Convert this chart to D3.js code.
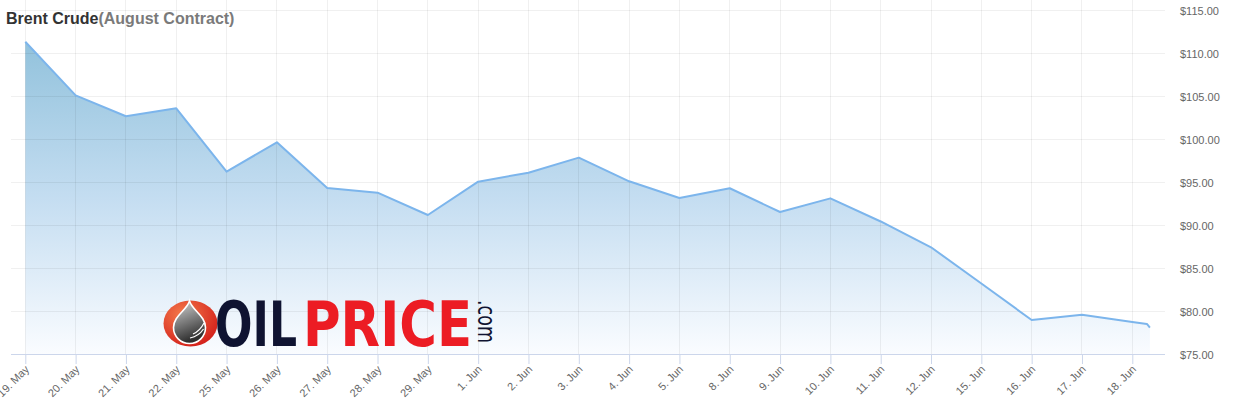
<!DOCTYPE html>
<html>
<head>
<meta charset="utf-8">
<script src="https://cdn.jsdelivr.net/npm/d3@7"></script>
<style>
  body { margin: 0; background: #fff; }
  svg { display: block; font-family: "Liberation Sans", Arial, sans-serif; }
</style>
</head>
<body>
<div id="chart"></div>
<script>
// trading sessions (x axis labels)
const sessions = ['19. May', '20. May', '21. May', '22. May', '25. May', '26. May', '27. May',
  '28. May', '29. May', '1. Jun', '2. Jun', '3. Jun', '4. Jun', '5. Jun', '8. Jun', '9. Jun',
  '10. Jun', '11. Jun', '12. Jun', '15. Jun', '16. Jun', '17. Jun', '18. Jun']
// settle price per session, USD
const closes = [111.31, 105.08, 102.64, 103.57, 96.20, 99.62, 94.30, 93.76, 91.16, 95.04,
  96.08, 97.83, 95.08, 93.14, 94.27, 91.51, 93.10, 90.41, 87.41, 83.20, 78.95, 79.57, 78.73]
// intraday ticks after the last session (session offset, price)
const lateTimes = [22.29, 22.35]
const lateValues = [78.49, 78.06]
const priceTicks = [75, 80, 85, 90, 95, 100, 105, 110, 115]

const width = 1234
const height = 413
const plot = {left: 11, right: 1165, top: 0, bottom: 354}

const svg = d3.select('#chart')
  .append('svg')
  .attr('width', width)
  .attr('height', height)

const x = d3.scaleLinear().domain([0, sessions.length - 1]).range([25.3, 1132.3])
const y = d3.scaleLinear().domain([75, 115]).range([354, 10])

const data = closes.map((v, i) => ({t: i, v}))
  .concat(lateTimes.map((t, i) => ({t, v: lateValues[i]})))

const defs = svg.append('defs')
const grad = defs.append('linearGradient')
  .attr('id', 'areaFill')
  .attr('x1', 0).attr('y1', 0).attr('x2', 0).attr('y2', 1)
grad.append('stop').attr('offset', '0%').attr('stop-color', 'rgb(146,194,220)')
grad.append('stop').attr('offset', '50%').attr('stop-color', 'rgb(196,221,241)')
grad.append('stop').attr('offset', '100%').attr('stop-color', 'rgb(250,252,255)')

// area + line
const area = d3.area()
  .x(d => x(d.t))
  .y0(y(75))
  .y1(d => y(d.v))
svg.append('path')
  .datum(data)
  .attr('d', area)
  .attr('fill', 'url(#areaFill)')

// grid
const grid = svg.append('g').attr('stroke', 'rgba(0,0,0,0.06)').attr('shape-rendering', 'crispEdges')
grid.selectAll('.h')
  .data(priceTicks.slice(1))
  .enter()
  .append('line')
  .attr('x1', plot.left).attr('x2', plot.right)
  .attr('y1', d => y(d)).attr('y2', d => y(d))
grid.selectAll('.v')
  .data(d3.range(sessions.length))
  .enter()
  .append('line')
  .attr('x1', d => x(d)).attr('x2', d => x(d))
  .attr('y1', plot.top).attr('y2', plot.bottom)

const line = d3.line()
  .x(d => x(d.t))
  .y(d => y(d.v))
svg.append('path')
  .datum(data)
  .attr('d', line)
  .attr('fill', 'none')
  .attr('stroke', '#7cb5ec')
  .attr('stroke-width', 2)
  .attr('stroke-linejoin', 'round')

// x axis
const xAxis = d3.axisBottom(x)
  .tickValues(d3.range(sessions.length))
  .tickFormat(i => sessions[i])
  .tickSize(10)
  .tickSizeOuter(0)
const gx = svg.append('g')
  .attr('transform', `translate(0, ${plot.bottom})`)
  .call(xAxis)
gx.select('.domain').remove()
gx.selectAll('.tick line').attr('stroke', '#ccd6eb')
gx.selectAll('.tick text')
  .attr('fill', '#666')
  .attr('font-size', 11)
  .attr('text-anchor', 'end')
  .attr('y', 0)
  .attr('dy', 0)
  .attr('transform', 'translate(4, 16) rotate(-45)')
svg.append('line')
  .attr('x1', plot.left).attr('x2', plot.right)
  .attr('y1', plot.bottom + 0.5).attr('y2', plot.bottom + 0.5)
  .attr('stroke', '#ccd6eb')

// y axis
const yAxis = d3.axisRight(y)
  .tickValues(priceTicks)
  .tickFormat(d => '$' + d.toFixed(2))
  .tickSize(0)
const gy = svg.append('g')
  .attr('transform', 'translate(1180, 0)')
  .call(yAxis)
gy.select('.domain').remove()
gy.selectAll('.tick text')
  .attr('x', 0)
  .attr('dy', '0.4em')
  .attr('fill', '#666')
  .attr('font-size', 11)

// title
const title = svg.append('text')
  .attr('x', 6)
  .attr('y', 24)
  .attr('font-size', 16)
  .attr('font-weight', 'bold')
title.append('tspan').attr('fill', '#333').text('Brent Crude')
title.append('tspan').attr('fill', '#7a7a7a').text('(August Contract)')

// watermark logo
const logo = svg.append('g')
const red = defs.append('radialGradient').attr('id', 'logoRed')
  .attr('cx', '35%').attr('cy', '30%').attr('r', '75%')
red.append('stop').attr('offset', '0%').attr('stop-color', '#f47a4a')
red.append('stop').attr('offset', '100%').attr('stop-color', '#d3201b')
const drop = defs.append('linearGradient').attr('id', 'logoDrop')
  .attr('x1', 0).attr('y1', 0).attr('x2', 0.3).attr('y2', 1)
drop.append('stop').attr('offset', '0%').attr('stop-color', '#d8d8d8')
drop.append('stop').attr('offset', '100%').attr('stop-color', '#2e2e2e')
logo.append('ellipse')
  .attr('cx', 190.5).attr('cy', 323.5).attr('rx', 27).attr('ry', 23)
  .attr('fill', 'url(#logoRed)')
logo.append('path')
  .attr('d', 'M189.5 301 C192 310 205.5 316 205.5 327.5 A16 16 0 1 1 173.5 327.5 C173.5 316 187 310 189.5 301 Z')
  .attr('fill', 'url(#logoDrop)')
  .attr('stroke', '#fff')
  .attr('stroke-width', 1.6)
logo.append('path')
  .attr('d', 'M193 334 Q200 331 204 323 M190 338 Q199 336 203.5 329')
  .attr('fill', 'none')
  .attr('stroke', '#fff')
  .attr('stroke-width', 1.2)

// squeeze a word horizontally so it fills a given width
function logoWord (txt, x0, y0, w, size, color, angle) {
  const t = logo.append('text')
    .attr('font-family', '"DejaVu Sans", sans-serif')
    .attr('font-weight', angle ? 'normal' : 'bold')
    .attr('font-size', size)
    .attr('fill', color)
    .text(txt)
  const k = w / t.node().getComputedTextLength()
  t.attr('transform', `translate(${x0}, ${y0}) rotate(${angle || 0}) scale(${k}, 1)`)
}
logoWord('OIL', 215, 346, 82, 62, '#0f1331')
logoWord('PRICE', 303, 346, 169, 62, '#ec1c24')
logoWord('.com', 478, 300, 43, 24, '#0f1331', 90)
</script>
</body>
</html>
